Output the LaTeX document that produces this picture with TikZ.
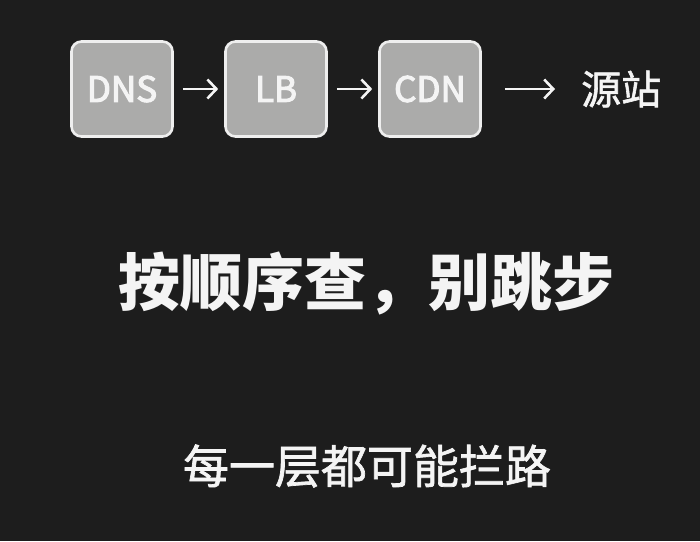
\documentclass[tikz,border=0pt]{standalone}
\usepackage{fontspec}
\setmainfont{Noto Sans CJK SC}
\newfontfamily\medfont[FakeBold=3]{Noto Sans CJK SC}
\newfontfamily\semifont[FakeBold=1.5]{Noto Sans CJK SC}
\usetikzlibrary{arrows.meta}
\definecolor{bg}{HTML}{1D1D1D}
\definecolor{boxfill}{HTML}{ABABAA}
\definecolor{boxedge}{HTML}{EEEEEE}
\definecolor{txt}{HTML}{F4F4F4}
\begin{document}
\begin{tikzpicture}[x=1pt,y=-1pt,
  layer/.style={draw=boxedge, line width=2.6pt, fill=boxfill, rounded corners=10pt,
    minimum width=101pt, minimum height=95pt, inner sep=0pt, text=txt,
    font=\medfont\fontsize{35}{35}\selectfont},
  flow/.style={draw=txt, line width=2.6pt, -{Straight Barb[length=9pt,width=19pt,line width=2.6pt]}},
  label/.style={text=txt, inner sep=0pt}]
\fill[bg] (0,0) rectangle (700,541);
\useasboundingbox (0,0) rectangle (700,541);
\node[layer] (dns) at (122,89) {DNS};
\node[layer] (lb) at (276,89) {LB};
\node[layer] (cdn) at (430,89) {CDN};
\node[label, font=\semifont\fontsize{40}{40}\selectfont, anchor=west] (origin) at (581,89) {源站};
\draw[flow, shorten <=9pt, shorten >=6pt] (dns) -- (lb);
\draw[flow, shorten <=9pt, shorten >=6pt] (lb) -- (cdn);
\draw[flow, shorten <=23pt, shorten >=26pt] (cdn) -- (origin);
\node[label, font=\fontsize{62}{62}\selectfont\bfseries] (title) at (366,283) {按顺序查，别跳步};
\node[label, font=\semifont\fontsize{46}{46}\selectfont] (sub) at (367,466) {每一层都可能拦路};
\end{tikzpicture}
\end{document}
